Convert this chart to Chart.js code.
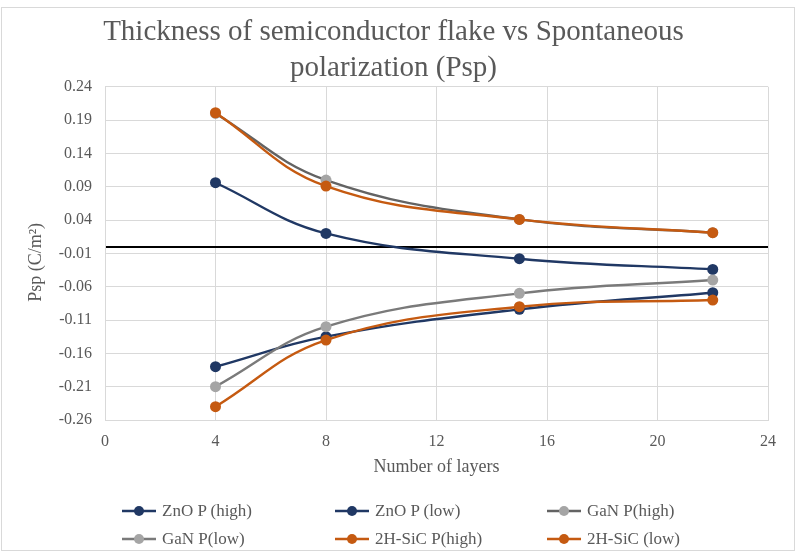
<!DOCTYPE html>
<html>
<head>
<meta charset="utf-8">
<script src="https://cdn.jsdelivr.net/npm/chart.js@4.4.1/dist/chart.umd.min.js"></script>
<style>
  html, body { margin: 0; padding: 0; background: #ffffff; }
  #wrap { position: relative; width: 796px; height: 557px; overflow: hidden; background: #fff; }
  #frame { position: absolute; left: 1px; top: 7px; width: 792px; height: 542px; border: 1px solid #d9d9d9; pointer-events: none; }
  #chart { position: absolute; left: 0; top: 0; }
  .lg-item { position: absolute; height: 20px; display: flex; align-items: center; font-family: 'Liberation Serif', 'Times New Roman', serif; font-size: 17px; color: #595959; white-space: nowrap; }
  .lg-item canvas { margin-right: 6px; }
</style>
</head>
<body>
<div id="wrap">
  <div id="frame"></div>
  <canvas id="chart" width="796" height="557"></canvas>
  <div id="legend"></div>
</div>
<script>
// ---- data ----
const xLayers = [4, 8, 15, 22];
const znoHigh = [0.096, 0.020, -0.018, -0.034];
const znoLow  = [-0.180, -0.135, -0.094, -0.069];
const ganHigh = [0.200, 0.100, 0.041, 0.021];
const ganLow  = [-0.210, -0.120, -0.070, -0.050];
const sicHigh = [0.201, 0.091, 0.041, 0.021];
const sicLow  = [-0.240, -0.140, -0.090, -0.080];

const seriesNames = ['ZnO P (high)', 'ZnO P (low)', 'GaN P(high)', 'GaN P(low)', '2H-SiC P(high)', '2H-SiC (low)'];
const seriesValues = [znoHigh, znoLow, ganHigh, ganLow, sicHigh, sicLow];
const lineColors = ['#203864', '#203864', '#636363', '#7a7a7a', '#c55a11', '#c55a11'];
const markerColors = ['#203864', '#203864', '#a5a5a5', '#a5a5a5', '#c55a11', '#c55a11'];

const yTickValues = [-0.26, -0.21, -0.16, -0.11, -0.06, -0.01, 0.04, 0.09, 0.14, 0.19, 0.24];
const xTickStep = 4;

const FONT = "'Liberation Serif', 'Times New Roman', serif";
const TXT = '#595959';
const GRID = '#d9d9d9';

const datasets = seriesNames.map((name, i) => ({
  label: name,
  data: xLayers.map((x, k) => ({ x: x, y: seriesValues[i][k] })),
  borderColor: lineColors[i],
  backgroundColor: markerColors[i],
  pointBackgroundColor: markerColors[i],
  pointBorderColor: markerColors[i],
  pointRadius: 5.5,
  pointBorderWidth: 0,
  borderWidth: 2.4,
  tension: 0.4,
  fill: false,
  order: seriesNames.length - i
}));

const chart = new Chart(document.getElementById('chart'), {
  type: 'line',
  data: { datasets },
  options: {
    responsive: false,
    animation: false,
    layout: { padding: { left: 19, right: 28, top: 0, bottom: 77 } },
    plugins: {
      legend: { display: false },
      tooltip: { enabled: false },
      title: {
        display: true,
        text: ['Thickness of semiconductor flake vs Spontaneous', 'polarization (Psp)'],
        color: TXT,
        font: { family: FONT, size: 29, weight: 'normal', lineHeight: 1.22 },
        padding: { top: 15, bottom: 1 }
      }
    },
    scales: {
      x: {
        type: 'linear',
        min: 0, max: 24,
        ticks: { stepSize: xTickStep, color: TXT, font: { family: FONT, size: 16 }, padding: 12, maxRotation: 0 },
        grid: { color: GRID, lineWidth: 1, drawTicks: false },
        border: { color: GRID },
        title: { display: true, text: 'Number of layers', color: TXT, font: { family: FONT, size: 18 }, padding: { top: 0, bottom: 2 } },
        afterFit: s => { s.height = 60; }
      },
      y: {
        type: 'linear',
        min: -0.26, max: 0.24,
        afterBuildTicks: s => {
          s.ticks = yTickValues.concat([0]).sort((a, b) => a - b).map(v => ({ value: v }));
        },
        ticks: {
          color: TXT, font: { family: FONT, size: 16 }, padding: 13,
          callback: v => (v === 0 ? '' : v.toFixed(2))
        },
        grid: {
          drawTicks: false,
          color: c => (c.tick && c.tick.value === 0 ? '#000000' : GRID),
          lineWidth: c => (c.tick && c.tick.value === 0 ? 2 : 1)
        },
        border: { color: GRID },
        title: { display: true, text: 'Psp (C/m²)\u00a0\u00a0\u00a0\u00a0', color: TXT, font: { family: FONT, size: 18 }, padding: { top: 6, bottom: 0 } },
        afterFit: s => { s.width = 86; }
      }
    }
  }
});

// ---- HTML legend built from the chart's own legend items ----
(function buildLegend() {
  const items = chart.options.plugins.legend.labels.generateLabels(chart)
    .sort((a, b) => a.datasetIndex - b.datasetIndex);
  const cols = [122, 335, 547];
  const rows = [501, 529];
  const host = document.getElementById('legend');
  items.forEach((it, i) => {
    const ds = chart.data.datasets[it.datasetIndex];
    const div = document.createElement('div');
    div.className = 'lg-item';
    div.style.left = cols[i % 3] + 'px';
    div.style.top = rows[Math.floor(i / 3)] + 'px';
    const c = document.createElement('canvas');
    c.width = 34; c.height = 14;
    const g = c.getContext('2d');
    g.strokeStyle = ds.borderColor; g.lineWidth = 2.4;
    g.beginPath(); g.moveTo(0, 7); g.lineTo(34, 7); g.stroke();
    g.fillStyle = ds.pointBackgroundColor;
    g.beginPath(); g.arc(17, 7, 5, 0, Math.PI * 2); g.fill();
    div.appendChild(c);
    const span = document.createElement('span');
    span.textContent = it.text;
    div.appendChild(span);
    host.appendChild(div);
  });
})();
</script>
</body>
</html>
